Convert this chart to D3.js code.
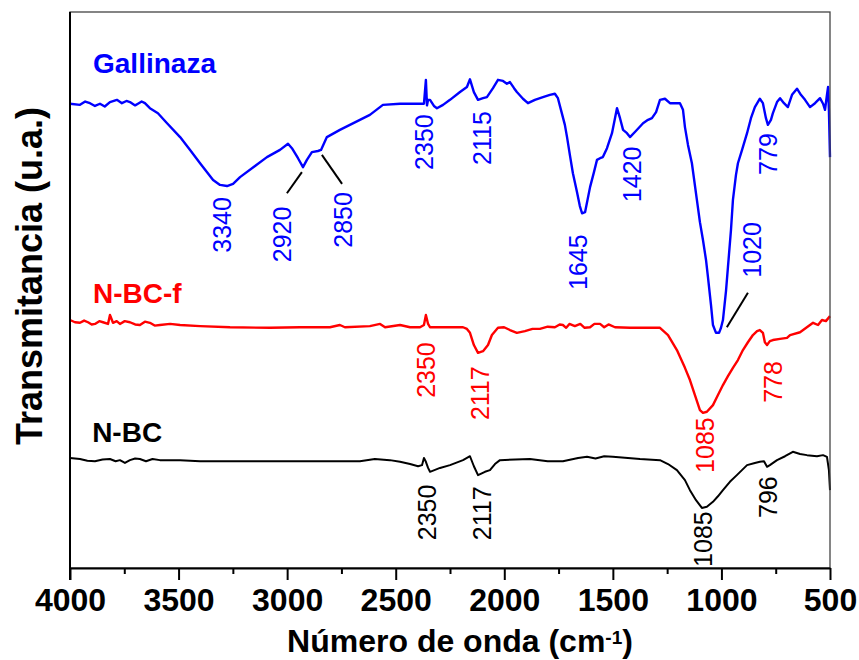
<!DOCTYPE html>
<html>
<head>
<meta charset="utf-8">
<script src="https://cdn.jsdelivr.net/npm/d3@7"></script>
<style>
body { margin: 0; background: #fff; }
text { font-family: "Liberation Sans", Arial, sans-serif; }
</style>
</head>
<body>
<div id="idChart"></div>
<script>

// FTIR spectra, [wavenumber cm-1, transmittance u.a.]
var gaGallinaza = [
    [4000,83.5],[3954,83.3],[3930,83.9],[3908,83.6],[3885,83.1],[3862,83.5],[3840,83.0],[3816,83.8],[3784,84.2],[3761,83.6],
    [3740,84.0],[3724,83.8],[3700,83.2],[3687,83.5],[3670,83.9],[3655,83.6],[3632,82.7],[3595,81.8],[3553,80.0],[3493,77.5],
    [3447,75.2],[3401,72.8],[3341,69.8],[3309,68.9],[3277,68.7],[3249,69.1],[3217,70.3],[3148,72.3],[3093,73.9],[3033,75.2],
    [2996,76.3],[2978,75.5],[2950,73.7],[2927,72.1],[2909,73.4],[2886,74.8],[2858,75.0],[2844,75.2],[2817,77.5],[2757,78.8],
    [2665,80.6],[2619,81.5],[2559,83.3],[2480,83.5],[2388,83.5],[2370,83.5],[2361,87.8],[2356,83.2],[2351,84.2],[2342,84.2],
    [2324,83.1],[2310,82.7],[2282,83.3],[2250,84.2],[2204,85.6],[2172,86.5],[2158,87.9],[2140,85.6],[2121,84.2],[2098,84.5],
    [2080,84.7],[2052,86.3],[2029,87.8],[2006,87.6],[1988,87.1],[1974,87.4],[1955,86.3],[1942,85.6],[1914,84.4],[1891,83.6],
    [1859,84.2],[1822,84.7],[1790,85.1],[1767,85.3],[1753,84.5],[1739,82.4],[1721,79.7],[1711,77.5],[1698,74.3],[1684,71.0],
    [1665,67.6],[1652,65.1],[1642,63.8],[1628,64.0],[1605,68.5],[1587,71.2],[1573,73.4],[1559,73.7],[1546,73.9],[1527,75.5],
    [1504,78.2],[1481,82.7],[1467,80.9],[1453,78.8],[1435,78.2],[1421,77.5],[1394,78.6],[1361,80.0],[1338,80.6],[1320,80.9],
    [1301,82.0],[1283,84.2],[1260,84.4],[1237,83.6],[1214,83.6],[1191,83.6],[1177,82.4],[1168,79.3],[1154,76.1],[1136,72.8],
    [1113,66.2],[1099,62.2],[1085,59.0],[1071,55.4],[1062,52.3],[1048,47.3],[1039,43.7],[1025,42.3],[1011,42.3],[1002,43.2],
    [993,44.6],[979,49.8],[970,54.1],[956,60.8],[947,66.2],[933,70.7],[924,72.8],[905,75.2],[882,78.2],[864,80.9],
    [846,82.9],[823,84.4],[809,83.6],[795,80.9],[786,79.7],[772,80.6],[763,81.8],[744,83.8],[730,84.5],[712,83.6],
    [694,82.9],[675,85.1],[652,86.2],[634,85.1],[615,84.2],[592,82.9],[569,83.6],[546,84.5],[532,83.5],[523,82.4],
    [514,85.1],[509,86.5],[505,82.4],[500,73.9]
];

var gaNBCf = [
    [4000,44.6],[3977,44.2],[3954,44.1],[3935,44.5],[3917,44.2],[3900,43.8],[3885,43.9],[3865,44.4],[3848,44.2],[3825,43.9],
    [3816,45.5],[3802,44.1],[3785,44.4],[3770,43.9],[3748,44.4],[3724,44.2],[3700,43.8],[3678,43.7],[3655,44.3],[3632,44.1],
    [3610,43.6],[3586,43.7],[3539,43.9],[3493,43.7],[3401,43.5],[3263,43.3],[3079,43.2],[2941,43.3],[2803,43.3],[2757,43.7],
    [2734,43.3],[2619,43.5],[2572,43.9],[2549,43.3],[2480,43.7],[2434,43.3],[2388,43.3],[2370,43.7],[2361,45.5],[2351,43.9],
    [2342,43.3],[2250,43.3],[2190,43.3],[2172,43.0],[2158,42.3],[2140,40.1],[2121,38.7],[2098,39.0],[2075,40.1],[2057,41.9],
    [2029,43.2],[2001,43.3],[1974,42.8],[1942,42.3],[1905,42.6],[1870,43.0],[1836,43.0],[1800,43.4],[1767,43.3],[1745,43.8],
    [1730,43.7],[1715,43.2],[1700,43.9],[1675,43.5],[1650,43.9],[1630,43.2],[1605,43.3],[1585,43.9],[1559,43.9],[1540,43.3],
    [1520,43.8],[1490,43.3],[1421,43.2],[1283,43.2],[1246,41.9],[1205,39.2],[1168,36.0],[1145,33.8],[1122,31.1],[1099,28.4],
    [1085,27.9],[1067,28.1],[1039,29.3],[1016,31.1],[993,32.9],[970,34.5],[947,36.0],[924,37.4],[901,39.2],[878,40.6],
    [855,41.9],[836,42.6],[823,42.8],[809,42.3],[800,40.6],[790,40.1],[777,40.8],[763,41.0],[730,41.2],[698,41.4],
    [684,41.9],[638,42.4],[578,44.1],[555,43.7],[537,44.6],[519,44.4],[500,45.3]
];

var gaNBC = [
    [4000,19.8],[3954,19.6],[3920,19.3],[3885,19.2],[3850,19.5],[3816,19.6],[3790,19.2],[3770,19.4],[3747,18.9],[3724,19.4],
    [3700,19.7],[3678,19.6],[3650,19.2],[3620,19.6],[3586,19.4],[3493,19.4],[3401,19.2],[3217,19.2],[2941,19.2],[2665,19.2],
    [2596,19.6],[2527,19.4],[2480,19.1],[2434,18.7],[2397,18.3],[2379,18.5],[2370,19.8],[2361,19.1],[2351,18.0],[2342,17.3],
    [2296,18.0],[2250,18.5],[2190,19.4],[2158,20.1],[2140,18.3],[2121,16.7],[2089,17.3],[2066,17.6],[2043,18.7],[2020,19.4],
    [1882,19.6],[1800,19.2],[1730,19.2],[1660,19.8],[1619,20.0],[1580,19.7],[1540,20.1],[1500,20.0],[1375,19.6],[1283,19.4],
    [1246,18.7],[1205,17.6],[1168,15.8],[1145,14.0],[1117,12.2],[1090,10.8],[1067,11.0],[1039,11.9],[1016,12.9],[993,14.0],
    [961,15.5],[929,16.7],[882,18.5],[846,18.9],[823,19.1],[804,19.2],[790,18.2],[777,18.5],[744,19.4],[707,20.1],
    [671,20.9],[638,20.5],[606,20.3],[560,20.1],[532,20.3],[514,20.0],[505,17.6],[500,14.0]
];

var gasSeriesNames = ["Gallinaza", "N-BC-f", "N-BC"];
// where each name sits [wavenumber, u.a.]
var gaSeriesNamePos = [[3894,89.0], [3894,47.7], [3898,22.7]];

var gaiXMajor = [4000, 3500, 3000, 2500, 2000, 1500, 1000, 500];
var gaiXMinor = [3750, 3250, 2750, 2250, 1750, 1250, 750];

// peak labels: text, wavenumber, u.a. at text start
var gaPeaksGallinaza = [
    ["3340",3300,56.7], ["2920",3024,55.0], ["2850",2743,57.6], ["2350",2370,71.6], ["2115",2103,72.5],
    ["1645",1661,50.0], ["1420",1412,65.8], ["1020",859,52.2], ["779",786,70.7]
];
var gaPeaksNBCf = [
    ["2350",2361,30.6], ["2117",2112,26.6], ["1085",1076,17.1], ["778",763,29.7]
];
var gaPeaksNBC = [
    ["2350",2356,5.0], ["2117",2103,5.0], ["1085",1085,0.2], ["796",786,9.0]
];

// leader lines [w1, v1, w2, v2]
var gaLeaders = [
    [3001,67.4,2932,71.2],
    [2840,74.3,2747,69.1],
    [975,43.3,878,49.5]
];

var gasColors = ["#0000ff", "#ff0000", "#000000"];

function drawChart()
{
    var iWidth = 859;
    var iHeight = 660;
    var margin = {top: 12, right: 29, bottom: 92, left: 70};

    var svg = d3.select("#idChart").append("svg")
        .attr("width", iWidth)
        .attr("height", iHeight);

    var x = d3.scaleLinear()
        .domain([4000, 500])
        .range([margin.left, iWidth - margin.right]);

    var y = d3.scaleLinear()
        .domain([0, 100])
        .range([iHeight - margin.bottom, margin.top]);

    var valueLine = d3.line()
        .x(function(d) { return x(d[0]); })
        .y(function(d) { return y(d[1]); });

    var aaSeries = [gaGallinaza, gaNBCf, gaNBC];
    var aaPeaks = [gaPeaksGallinaza, gaPeaksNBCf, gaPeaksNBC];

    aaSeries.forEach(function(rows, i) {
        svg.append("path")
            .attr("d", valueLine(rows))
            .attr("fill", "none")
            .attr("stroke", gasColors[i])
            .attr("stroke-width", i == 2 ? 2 : 2.4)
            .attr("stroke-linejoin", "round");
    });

    // frame
    svg.append("rect")
        .attr("x", x(4000)).attr("y", y(100))
        .attr("width", x(500) - x(4000)).attr("height", y(0) - y(100))
        .attr("fill", "none").attr("stroke", "#444").attr("stroke-width", 1.3);

    var xAxis = d3.axisBottom(x).tickValues(gaiXMajor).tickSize(12).tickPadding(8).tickSizeOuter(0)
        .tickFormat(d3.format("d"));
    var xMinor = d3.axisBottom(x).tickValues(gaiXMinor).tickSize(6).tickSizeOuter(0).tickFormat("");

    var gx = svg.append("g").attr("transform", "translate(0," + y(0) + ")").call(xAxis);
    var gm = svg.append("g").attr("transform", "translate(0," + y(0) + ")").call(xMinor);
    gm.select(".domain").remove();
    gx.select(".domain").attr("stroke-width", 2);
    gx.selectAll(".tick line").attr("stroke-width", 2);
    gm.selectAll(".tick line").attr("stroke-width", 2);
    gx.selectAll(".tick text")
        .style("font-family", "'Liberation Sans', Arial, sans-serif")
        .style("font-size", "32px")
        .style("font-weight", "bold")
        .attr("fill", "#000");

    svg.append("line")
        .attr("x1", x(4000)).attr("x2", x(4000))
        .attr("y1", y(100)).attr("y2", y(0) + 12)
        .attr("stroke", "#000").attr("stroke-width", 2);

    // axis titles
    var title = svg.append("text")
        .attr("x", (x(4000) + x(500)) / 2 + 10)
        .attr("y", 652)
        .attr("text-anchor", "middle")
        .style("font-size", "32px")
        .style("font-weight", "bold")
        .text("Número de onda (cm");
    title.append("tspan").attr("dy", "-0.42em").style("font-size", "19px").text("-1");
    title.append("tspan").attr("dy", "0.25em").text(")");

    svg.append("text")
        .attr("transform", "translate(42," + 276 + ") rotate(-90)")
        .attr("text-anchor", "middle")
        .style("font-size", "36px")
        .style("font-weight", "bold")
        .text("Transmitancia (u.a.)");

    // series names
    gasSeriesNames.forEach(function(s, i) {
        svg.append("text")
            .attr("x", x(gaSeriesNamePos[i][0]))
            .attr("y", y(gaSeriesNamePos[i][1]))
            .attr("fill", gasColors[i])
            .style("font-size", "28px")
            .style("font-weight", "bold")
            .text(s);
    });

    // peak labels
    var iFont = 25;
    aaPeaks.forEach(function(peaks, i) {
        peaks.forEach(function(p) {
            var px = x(p[1]) + iFont * 0.358;
            var py = y(p[2]);
            svg.append("text")
                .attr("transform", "translate(" + px + "," + py + ") rotate(-90)")
                .attr("fill", gasColors[i])
                .style("font-size", iFont + "px")
                .text(p[0]);
        });
    });

    gaLeaders.forEach(function(l) {
        svg.append("line")
            .attr("x1", x(l[0])).attr("y1", y(l[1]))
            .attr("x2", x(l[2])).attr("y2", y(l[3]))
            .attr("stroke", "#000").attr("stroke-width", 2);
    });
}

drawChart();

</script>
</body>
</html>
